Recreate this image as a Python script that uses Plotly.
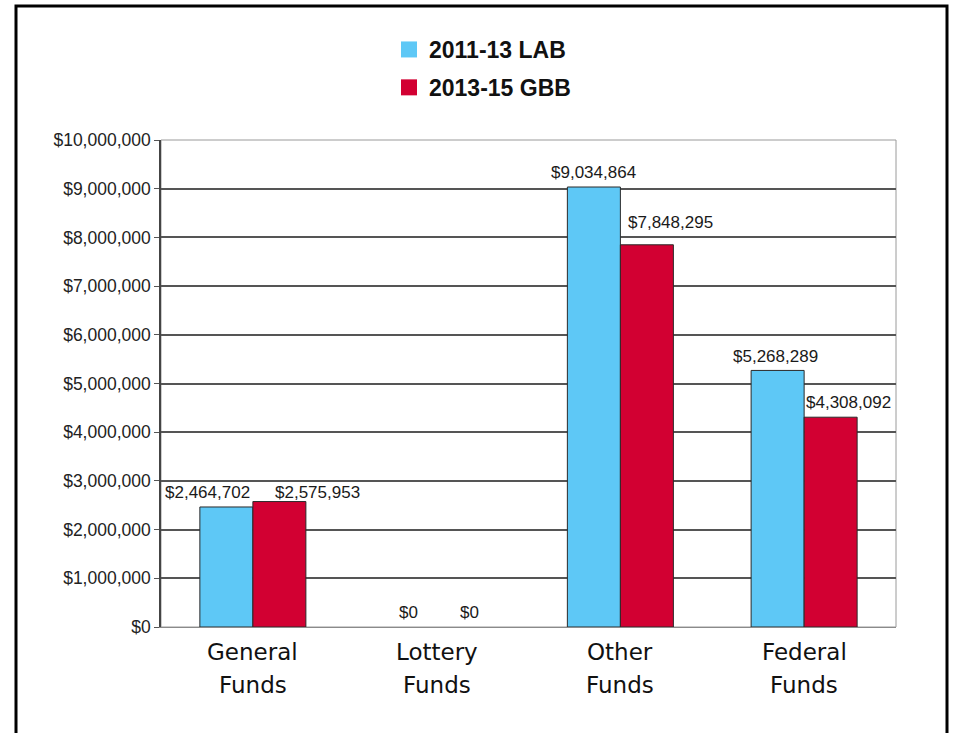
import plotly.graph_objects as go

# ---- data ----
categories = ["General Funds", "Lottery Funds", "Other Funds", "Federal Funds"]
series_names = ["2011-13 LAB", "2013-15 GBB"]
lab_2011_13 = [2464702, 0, 9034864, 5268289]
gbb_2013_15 = [2575953, 0, 7848295, 4308092]
y_tick_values = [0, 1000000, 2000000, 3000000, 4000000, 5000000,
                 6000000, 7000000, 8000000, 9000000, 10000000]
y_tick_labels = ["$0", "$1,000,000", "$2,000,000", "$3,000,000", "$4,000,000",
                 "$5,000,000", "$6,000,000", "$7,000,000", "$8,000,000",
                 "$9,000,000", "$10,000,000"]

# ---- style ----
BLUE = "#5EC8F6"
RED = "#D20032"
W, H = 955, 733
L, R, T, B = 161, 59, 140, 106
PW, PH = W - L - R, H - T - B

# label offsets (px) relative to bar centre / bar top
lab_dx = [-19, -2, 0, -2]
gbb_dx = [38, 6, 24, 18]
lab_dy = [14, 15, 15, 14]
gbb_dy = [9, 15, 22, 15]
BAR_HALF = 26.5

fig = go.Figure()
for name, vals, col in [(series_names[0], lab_2011_13, BLUE),
                        (series_names[1], gbb_2013_15, RED)]:
    fig.add_trace(go.Bar(
        x=categories, y=vals, name=name, showlegend=False,
        marker=dict(color=col,
                    line=dict(color="#2a2a2a",
                              width=[1 if v > 0 else 0 for v in vals])),
    ))
# legend entries with larger square symbols
for i, (name, col) in enumerate([(series_names[0], BLUE), (series_names[1], RED)]):
    fig.add_trace(go.Scatter(
        x=[None], y=[None], mode="markers", name=name, legendgroup=f"g{i}",
        marker=dict(symbol="square", size=17, color=col),
    ))

annotations = []
lab_font = dict(family="Liberation Sans, Arial", size=17, color="#1a1a1a")
for i, c in enumerate(categories):
    for vals, dx, dy, side in [(lab_2011_13, lab_dx, lab_dy, -1),
                               (gbb_2013_15, gbb_dx, gbb_dy, 1)]:
        annotations.append(dict(
            x=c, y=vals[i], xref="x", yref="y",
            text="${:,}".format(vals[i]), showarrow=False,
            xanchor="center", yanchor="middle",
            xshift=side * BAR_HALF + dx[i], yshift=dy[i],
            font=lab_font,
        ))
    line1, line2 = c.split(" ")
    for txt, ys in [(line1, -25), (line2, -58)]:
        annotations.append(dict(
            x=c, y=0, xref="x", yref="paper", text=txt, showarrow=False,
            xanchor="center", yanchor="middle", yshift=ys,
            font=dict(family="DejaVu Sans, Verdana", size=23, color="#111111"),
        ))

shapes = [
    # plot-area frame (light)
    dict(type="rect", xref="paper", yref="paper", x0=0, x1=1, y0=0, y1=1,
         line=dict(color="#9a9a9a", width=1), layer="below"),
    # outer black frame
    dict(type="rect", xref="paper", yref="paper",
         x0=(16 - L) / PW, x1=(947 - L) / PW,
         y0=(T + PH - 760) / PH, y1=(T + PH - 6) / PH,
         line=dict(color="#000000", width=3)),
]

fig.update_layout(
    width=W, height=H,
    margin=dict(l=L, r=R, t=T, b=B, pad=0),
    paper_bgcolor="white", plot_bgcolor="white",
    barmode="group", bargap=0.423, bargroupgap=0,
    annotations=annotations, shapes=shapes,
    legend=dict(
        x=(389 - L) / PW, xanchor="left",
        y=(T + PH - 28) / PH, yanchor="top",
        font=dict(family="Liberation Sans, Arial", size=23, color="#111111",
                  weight="bold"),
        tracegroupgap=5, bgcolor="rgba(0,0,0,0)",
    ),
    showlegend=True,
)
fig.update_xaxes(
    categoryorder="array", categoryarray=categories,
    showticklabels=False, showgrid=False, zeroline=False,
    showline=True, linecolor="#8a8a8a", linewidth=1,
)
fig.update_yaxes(
    range=[0, 10000000], tickvals=y_tick_values, ticktext=y_tick_labels,
    showgrid=True, gridcolor="#555555", gridwidth=1.5,
    zeroline=False, showline=True, linecolor="#444444", linewidth=1.5,
    ticks="outside", ticklen=5, tickcolor="#555555",
    tickfont=dict(family="Liberation Sans, Arial", size=17.5, color="#222222"),
)

fig.write_html("out.html",
               config={"displayModeBar": False},
               post_script="document.body.style.margin='0px';"
                           "document.body.style.overflow='hidden';")
